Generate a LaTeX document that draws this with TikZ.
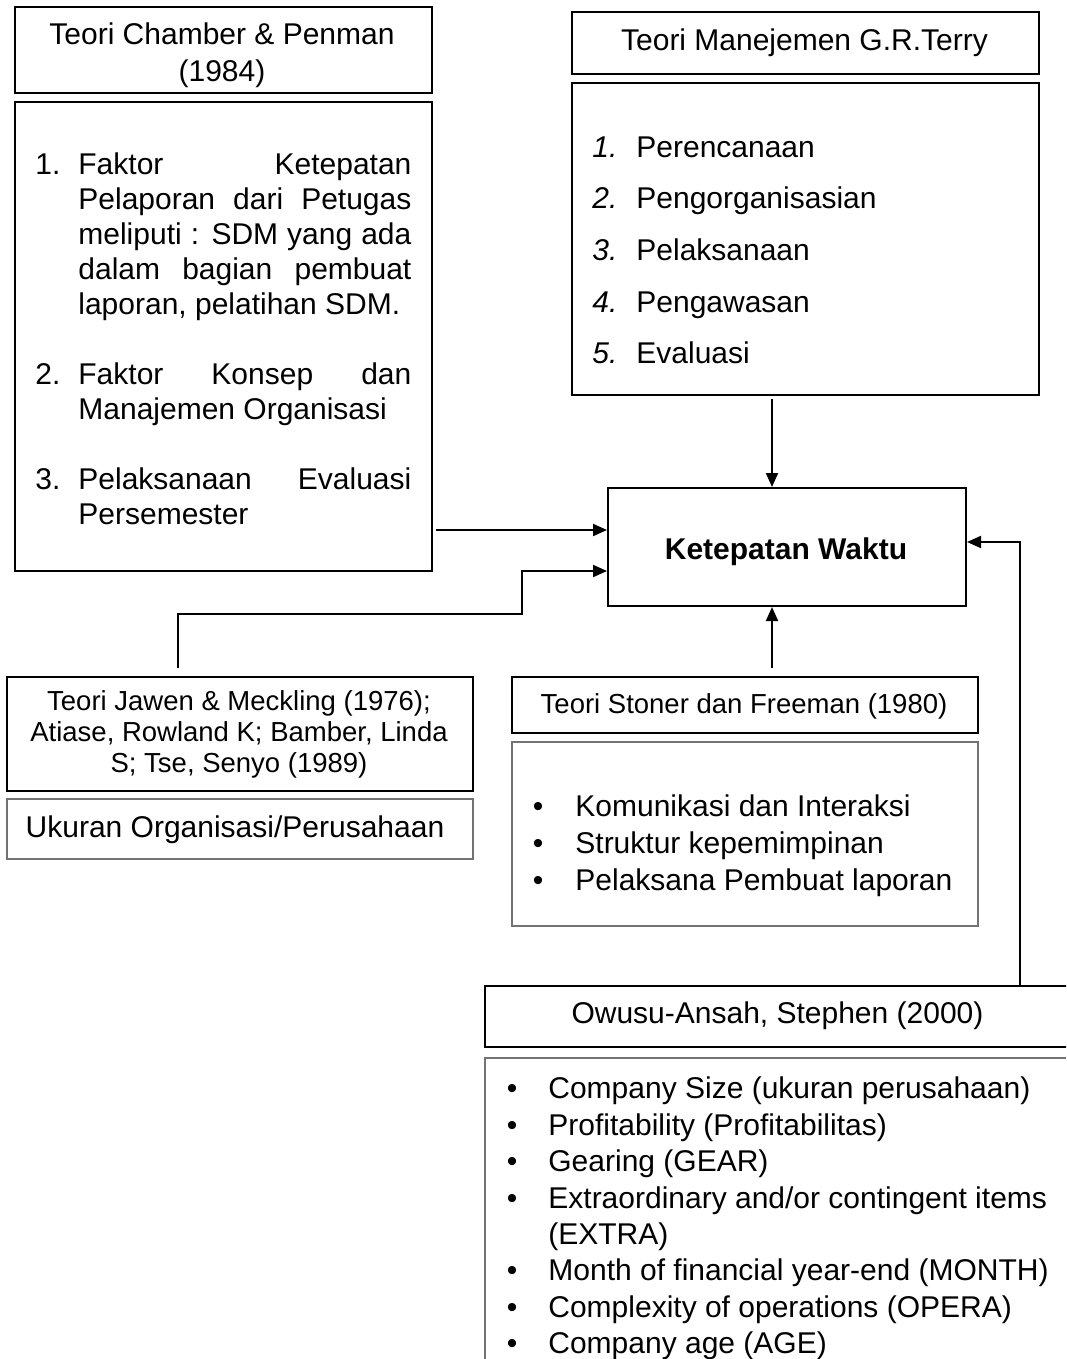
\documentclass[tikz,border=0pt]{standalone}
\usepackage{fontspec}
\setmainfont{Liberation Sans}
\usetikzlibrary{arrows.meta}
\begin{document}
\begin{tikzpicture}[x=0.5pt,y=-0.5pt,
  box/.style={draw=black, line width=1pt, inner sep=0pt, anchor=north west},
  gbox/.style={draw=black!55, line width=0.8pt, inner sep=0pt, anchor=north west},
  big/.style={font=\fontsize{15pt}{18pt}\selectfont, inner sep=0pt},
  sml/.style={font=\fontsize{13.75pt}{16pt}\selectfont, inner sep=0pt},
  arr/.style={line width=1pt, line join=miter, -{Triangle[length=7pt,width=6pt]}}]
\useasboundingbox (0,0) rectangle (1066,1359);
\clip (0,0) rectangle (1066,1359);

% ---- boxes ----
\node[box, minimum width=208.5pt, minimum height=43pt] (ct) at (14,6) {};
\node[box, minimum width=208.5pt, minimum height=234.5pt] (cl) at (14,101) {};
\node[box, minimum width=233.5pt, minimum height=31pt] (tt) at (571,11) {};
\node[box, minimum width=233.5pt, minimum height=156pt] (tl) at (571,82) {};
\node[box, minimum width=179pt, minimum height=59pt] (ket) at (607,487) {};
\node[box, minimum width=233pt, minimum height=57pt] (jw) at (6,676) {};
\node[gbox, minimum width=233pt, minimum height=30pt] (uk) at (6,798) {};
\node[box, minimum width=233pt, minimum height=28pt] (st) at (511,676) {};
\node[gbox, minimum width=233pt, minimum height=92pt] (sl) at (511,741) {};
\node[box, line width=0.8pt, minimum width=298pt, minimum height=30.5pt] (ot) at (484,985) {};
\node[gbox, minimum width=298pt, minimum height=161.5pt] (ol) at (484,1057) {};

% ---- Chamber & Penman ----
\node[big, anchor=base] (ct1) at (222,45) {Teori Chamber \& Penman};
\node[big, anchor=base] (ct2) at (222,82) {(1984)};
\node[big, anchor=base west] (cn1) at (35,174) {1.};
\node[big, anchor=base west] (c1a) at (78,174) {\makebox[166.5pt][s]{Faktor Ketepatan}};
\node[big, anchor=base west] (c1b) at (78,209) {\makebox[166.5pt][s]{Pelaporan dari Petugas}};
\node[big, anchor=base west] (c1c) at (78,244) {\makebox[166.5pt][s]{meliputi : SDM yang ada}};
\node[big, anchor=base west] (c1d) at (78,279) {\makebox[166.5pt][s]{dalam bagian pembuat}};
\node[big, anchor=base west] (c1e) at (78,314) {laporan, pelatihan SDM.};
\node[big, anchor=base west] (cn2) at (35,384) {2.};
\node[big, anchor=base west] (c2a) at (78,384) {\makebox[166.5pt][s]{Faktor Konsep dan}};
\node[big, anchor=base west] (c2b) at (78,419) {Manajemen Organisasi};
\node[big, anchor=base west] (cn3) at (35,489) {3.};
\node[big, anchor=base west] (c3a) at (78,489) {\makebox[166.5pt][s]{Pelaksanaan Evaluasi}};
\node[big, anchor=base west] (c3b) at (78,524) {Persemester};

% ---- Terry ----
\node[big, anchor=base] (tt1) at (804.5,51) {Teori Manejemen G.R.Terry};
\node[big, anchor=base west] (tn1) at (592,157) {\textit{1.}};
\node[big, anchor=base west] (tx1) at (636,157) {Perencanaan};
\node[big, anchor=base west] (tn2) at (592,208) {\textit{2.}};
\node[big, anchor=base west] (tx2) at (636,208) {Pengorganisasian};
\node[big, anchor=base west] (tn3) at (592,260) {\textit{3.}};
\node[big, anchor=base west] (tx3) at (636,260) {Pelaksanaan};
\node[big, anchor=base west] (tn4) at (592,312) {\textit{4.}};
\node[big, anchor=base west] (tx4) at (636,312) {Pengawasan};
\node[big, anchor=base west] (tn5) at (592,363) {\textit{5.}};
\node[big, anchor=base west] (tx5) at (636,363) {Evaluasi};

% ---- Ketepatan ----
\node[big, anchor=base, font=\fontsize{15pt}{18pt}\selectfont\bfseries] (kt) at (786,559) {Ketepatan Waktu};

% ---- Jawen ----
\node[sml, anchor=base] (jw1) at (239,710) {Teori Jawen \& Meckling (1976);};
\node[sml, anchor=base] (jw2) at (239,741) {Atiase, Rowland K; Bamber, Linda};
\node[sml, anchor=base] (jw3) at (239,772) {S; Tse, Senyo (1989)};
\node[big, anchor=base] (uk1) at (235,837) {Ukuran Organisasi/Perusahaan};

% ---- Stoner ----
\node[sml, anchor=base] (st1) at (744,713) {Teori Stoner dan Freeman (1980)};
\node[big, anchor=base] (sb1) at (538,816) {•};
\node[big, anchor=base west] (sx1) at (575,816) {Komunikasi dan Interaksi};
\node[big, anchor=base] (sb2) at (538,853) {•};
\node[big, anchor=base west] (sx2) at (575,853) {Struktur kepemimpinan};
\node[big, anchor=base] (sb3) at (538,890) {•};
\node[big, anchor=base west] (sx3) at (575,890) {Pelaksana Pembuat laporan};

% ---- Owusu ----
\node[big, anchor=base] (ot1) at (777.5,1023) {Owusu-Ansah, Stephen (2000)};
\node[big, anchor=base] (ob1) at (512,1098) {•};
\node[big, anchor=base west] (ox1) at (548,1098) {Company Size (ukuran perusahaan)};
\node[big, anchor=base] (ob2) at (512,1135) {•};
\node[big, anchor=base west] (ox2) at (548,1135) {Profitability (Profitabilitas)};
\node[big, anchor=base] (ob3) at (512,1171) {•};
\node[big, anchor=base west] (ox3) at (548,1171) {Gearing (GEAR)};
\node[big, anchor=base] (ob4) at (512,1208) {•};
\node[big, anchor=base west] (ox4) at (548,1208) {Extraordinary and/or contingent items};
\node[big, anchor=base west] (ox4b) at (548,1244) {(EXTRA)};
\node[big, anchor=base] (ob5) at (512,1280) {•};
\node[big, anchor=base west] (ox5) at (548,1280) {Month of financial year-end (MONTH)};
\node[big, anchor=base] (ob6) at (512,1317) {•};
\node[big, anchor=base west] (ox6) at (548,1317) {Complexity of operations (OPERA)};
\node[big, anchor=base] (ob7) at (512,1353) {•};
\node[big, anchor=base west] (ox7) at (548,1353) {Company age (AGE)};

% ---- connectors ----
\coordinate (ax) at (772,0);
\coordinate (r1) at (0,530);
\coordinate (r2) at (0,571);
\coordinate (r3) at (0,542);
\coordinate (jx) at (178,0);
\coordinate (ox) at (1020,0);
\draw[arr, shorten <=1.5pt] (ax |- tl.south) -- (ax |- ket.north);
\draw[arr, shorten <=1.5pt] (r1 -| cl.east) -- (r1 -| ket.west);
\draw[arr, shorten <=4pt] (jx |- jw.north) -- (178,614) -- (522,614) -- (522,571) -- (r2 -| ket.west);
\draw[arr, shorten <=4pt] (ax |- st.north) -- (ax |- ket.south);
\draw[arr] (ox |- ot.north) |- (r3 -| ket.east);
\end{tikzpicture}
\end{document}
